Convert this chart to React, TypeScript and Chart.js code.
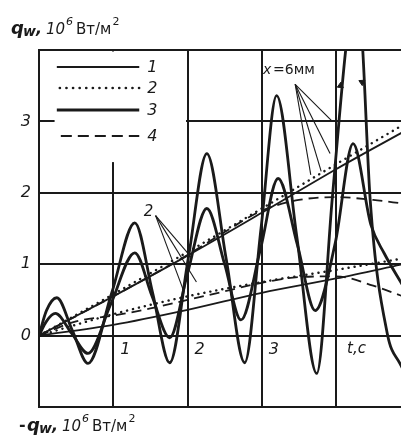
import React, { useEffect, useRef } from "react";
import { Chart, registerables } from "chart.js";

Chart.register(...registerables);

// ---- data ----
const outerT = [0, 0.1, 0.24, 0.45, 0.66, 0.98, 1.29, 1.53, 1.76, 2.01, 2.26, 2.52, 2.77, 2.99, 3.2, 3.47, 3.74, 3.95, 4.13, 4.28, 4.36, 4.46, 4.69, 4.86, 4.95];
const outerQ = [0, 0.35, 0.53, 0.07, -0.39, 0.6, 1.58, 0.6, -0.38, 1.08, 2.55, 1.08, -0.38, 1.5, 3.36, 1.4, -0.53, 1.93, 4.0, 5.2, 4.0, 1.9, 0.03, -0.39, -0.55];

const innerT = [0, 0.1, 0.22, 0.44, 0.66, 0.97, 1.29, 1.52, 1.76, 2.0, 2.26, 2.5, 2.72, 2.98, 3.22, 3.48, 3.72, 3.99, 4.23, 4.47, 4.65, 4.9];
const innerQ = [0, 0.2, 0.31, 0.03, -0.25, 0.45, 1.16, 0.56, -0.03, 0.87, 1.78, 1.0, 0.22, 1.2, 2.2, 1.27, 0.35, 1.3, 2.69, 1.55, 1.15, 0.7];

// arrowheads on the off-scale peak
const arrowT = [4.06, 4.35];
const arrowQ = [3.5, 3.55];
const arrowRot = [5, 176];

const upperT = [0, 1, 2, 3, 4, 4.9];
const upperSolid = [0, 0.55, 1.12, 1.72, 2.33, 2.85];
const upperDotted = [0, 0.58, 1.17, 1.78, 2.4, 2.95];
const upperDashT = [0, 1, 2, 2.5, 3, 3.5, 4, 4.5, 4.9];
const upperDashed = [0, 0.55, 1.13, 1.45, 1.75, 1.9, 1.94, 1.9, 1.85];

const lowerT = [0, 1, 2, 3, 4, 4.9];
const lowerSolid = [0, 0.15, 0.36, 0.6, 0.8, 1.0];
const lowerDotted = [0, 0.3, 0.55, 0.75, 0.92, 1.08];
const lowerDashT = [0, 0.5, 1, 1.5, 2, 2.5, 3, 3.5, 4, 4.5, 4.9];
const lowerDashed = [0, 0.2, 0.28, 0.38, 0.5, 0.62, 0.74, 0.82, 0.83, 0.7, 0.55];

// leader lines: label anchor -> target
const leader2From = [1.57, 1.68];
const leader2To = [[2.05, 1.1], [2.12, 0.75], [1.95, 0.62]];
const leader6From = [3.45, 3.52];
const leader6To = [[3.95, 3.0], [3.92, 2.55], [3.8, 2.3], [3.66, 2.25]];

const yTickLabels = ["0", "1", "2", "3"];
const xTickLabels = ["1", "2", "3"];
const legendLabels = ["1", "2", "3", "4"];

const INK = "#1a1a1a";

const pts = (t: number[], q: number[]) => t.map((x, i) => ({ x, y: q[i] }));

export default function App() {
  const ref = useRef<HTMLCanvasElement | null>(null);

  useEffect(() => {
    if (!ref.current) return;
    document.body.style.margin = "0";

    const leaderSets: any[] = [];
    leader2To.forEach((p) =>
      leaderSets.push({
        data: [{ x: leader2From[0], y: leader2From[1] }, { x: p[0], y: p[1] }],
        borderColor: INK, borderWidth: 1.1, pointRadius: 0, tension: 0,
      })
    );
    leader6To.forEach((p) =>
      leaderSets.push({
        data: [{ x: leader6From[0], y: leader6From[1] }, { x: p[0], y: p[1] }],
        borderColor: INK, borderWidth: 1.1, pointRadius: 0, tension: 0,
      })
    );

    const overlay = {
      id: "overlay",
      beforeDatasetsDraw(chart: any) {
        const { ctx, scales } = chart;
        const x = scales.x, y = scales.y;
        ctx.save();
        ctx.fillStyle = "#ffffff";
        const x0 = x.getPixelForValue(0.21), x1 = x.getPixelForValue(2) - 1.5;
        const y0 = y.getPixelForValue(4) + 1.5, y1 = y.getPixelForValue(2.43);
        ctx.fillRect(x0, y0, x1 - x0, y1 - y0);
        ctx.restore();
      },
      afterDatasetsDraw(chart: any) {
        const { ctx, scales } = chart;
        const x = scales.x, y = scales.y;
        ctx.save();
        ctx.strokeStyle = INK;
        ctx.fillStyle = INK;
        // legend
        const lx0 = x.getPixelForValue(0.24), lx1 = x.getPixelForValue(1.35);
        const rows = [67, 88, 110, 136];
        const styles = [
          { w: 2.2, dash: [], cap: "butt" },
          { w: 2.6, dash: [0.1, 6.5], cap: "round" },
          { w: 2.8, dash: [], cap: "butt" },
          { w: 1.8, dash: [11, 6], cap: "butt" },
        ];
        rows.forEach((ry, i) => {
          ctx.beginPath();
          ctx.lineWidth = styles[i].w;
          ctx.setLineDash(styles[i].dash);
          ctx.lineCap = styles[i].cap;
          ctx.moveTo(lx0 + (i === 1 ? 3 : i === 3 ? 4 : 0), ry);
          ctx.lineTo(lx1, ry);
          ctx.stroke();
        });
        ctx.setLineDash([]);
        ctx.lineCap = "butt";
        ctx.font = 'italic 16px "DejaVu Sans"';
        ctx.textBaseline = "middle";
        ctx.textAlign = "left";
        legendLabels.forEach((l, i) => ctx.fillText(l, lx1 + 8, rows[i] + 1));

        // y tick labels
        ctx.textAlign = "right";
        yTickLabels.forEach((l) => {
          ctx.fillText(l, 31, y.getPixelForValue(Number(l)));
        });
        // x tick labels
        ctx.textAlign = "left";
        ctx.textBaseline = "top";
        const y0p = y.getPixelForValue(0);
        xTickLabels.forEach((l) => {
          ctx.fillText(l, x.getPixelForValue(Number(l)) + 7, y0p + 6);
        });
        ctx.font = 'italic 15px "DejaVu Sans"';
        ctx.fillText("t,c", x.getPixelForValue(4) + 11, y0p + 6);

        // annotation labels
        ctx.font = 'italic 15px "DejaVu Sans"';
        ctx.textBaseline = "alphabetic";
        ctx.fillText("2", x.getPixelForValue(1.41), y.getPixelForValue(1.68));
        ctx.font = 'italic 14px "DejaVu Sans"';
        ctx.fillText("x", 263, 74);
        ctx.font = '14px "DejaVu Sans"';
        ctx.fillText("=6мм", 273, 74);
        ctx.restore();
      },
      afterDraw(chart: any) {
        const { ctx } = chart;
        ctx.save();
        ctx.fillStyle = INK;
        ctx.textBaseline = "alphabetic";
        ctx.textAlign = "left";
        const drawAxisTitle = (bx: number, by: number, minus: boolean) => {
          let cx = bx;
          if (minus) {
            ctx.font = 'bold 16px "DejaVu Sans"';
            ctx.fillText("-", cx, by - 1);
            cx += 8;
          }
          ctx.font = 'italic bold 18px "DejaVu Sans"';
          ctx.fillText("q", cx, by);
          cx += 12;
          ctx.font = 'italic bold 14px "DejaVu Sans"';
          ctx.fillText("w", cx, by + 2);
          cx += 13;
          ctx.font = 'italic bold 16px "DejaVu Sans"';
          ctx.fillText(",", cx, by);
          cx += 10;
          ctx.font = 'italic 15px "DejaVu Sans"';
          ctx.fillText("10", cx, by);
          cx += 20;
          ctx.font = 'italic 11px "DejaVu Sans"';
          ctx.fillText("6", cx, by - 9);
          cx += 10;
          ctx.font = '15px "DejaVu Sans"';
          ctx.fillText("Вт/м", cx, by);
          cx += ctx.measureText("Вт/м").width + 1;
          ctx.font = '11px "DejaVu Sans"';
          ctx.fillText("2", cx, by - 9);
        };
        drawAxisTitle(11, 34, false);
        drawAxisTitle(19, 431, true);
        ctx.restore();
      },
    };

    const chart = new Chart(ref.current, {
      type: "line",
      data: {
        datasets: [
          { data: pts(outerT, outerQ), borderColor: INK, borderWidth: 2.8, pointRadius: 0, cubicInterpolationMode: "monotone" },
          { data: pts(innerT, innerQ), borderColor: INK, borderWidth: 2.8, pointRadius: 0, cubicInterpolationMode: "monotone" },
          { data: pts(upperT, upperSolid), borderColor: INK, borderWidth: 1.8, pointRadius: 0, cubicInterpolationMode: "monotone" },
          { data: pts(upperT, upperDotted), borderColor: INK, borderWidth: 2.4, borderDash: [0.1, 6], borderCapStyle: "round", pointRadius: 0, cubicInterpolationMode: "monotone" },
          { data: pts(upperDashT, upperDashed), borderColor: INK, borderWidth: 1.8, borderDash: [10, 6], pointRadius: 0, cubicInterpolationMode: "monotone" },
          { data: pts(lowerT, lowerSolid), borderColor: INK, borderWidth: 1.8, pointRadius: 0, cubicInterpolationMode: "monotone" },
          { data: pts(lowerT, lowerDotted), borderColor: INK, borderWidth: 2.4, borderDash: [0.1, 6], borderCapStyle: "round", pointRadius: 0, cubicInterpolationMode: "monotone" },
          { data: pts(lowerDashT, lowerDashed), borderColor: INK, borderWidth: 1.8, borderDash: [10, 6], pointRadius: 0, cubicInterpolationMode: "monotone" },
          {
            type: "scatter",
            data: pts(arrowT, arrowQ),
            pointStyle: "triangle",
            pointRadius: 3.5,
            rotation: arrowRot,
            backgroundColor: INK,
            borderColor: INK,
            borderWidth: 1,
            showLine: false,
          },
          ...leaderSets,
        ],
      },
      options: {
        responsive: false,
        animation: false,
        devicePixelRatio: 1,
        layout: { autoPadding: false, padding: { left: 39, top: 50, right: 0, bottom: 32 } },
        plugins: { legend: { display: false }, tooltip: { enabled: false } },
        scales: {
          x: {
            type: "linear",
            min: 0,
            max: 4.875,
            ticks: { display: false, stepSize: 1, includeBounds: false },
            grid: { color: INK, lineWidth: 2, drawTicks: false },
            border: { display: true, color: INK, width: 2 },
          },
          y: {
            type: "linear",
            min: -1,
            max: 4,
            ticks: { display: false, stepSize: 1 },
            grid: { color: INK, lineWidth: 2, drawTicks: false },
            border: { display: true, color: INK, width: 2 },
          },
        },
      },
      plugins: [overlay],
    } as any);

    return () => chart.destroy();
  }, []);

  return (
    <div style={{ position: "absolute", left: 0, top: 0, width: 401, height: 439, background: "#fff" }}>
      <canvas ref={ref} width={401} height={439} style={{ display: "block" }} />
    </div>
  );
}
